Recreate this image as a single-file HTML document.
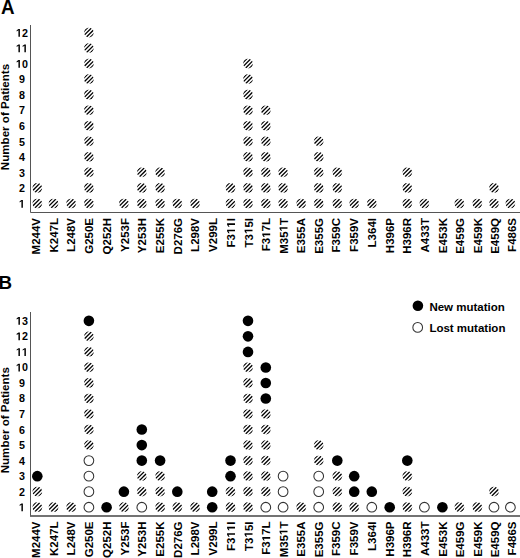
<!DOCTYPE html>
<html><head><meta charset="utf-8"><title>Figure</title><style>
html,body{margin:0;padding:0;background:#fff;}
svg{display:block;}
text{font-family:"Liberation Sans",sans-serif;font-weight:bold;font-kerning:none;fill:#000;}
.o{fill-opacity:0;}
</style></head><body>
<svg width="520" height="558" viewBox="0 0 520 558">
<defs>
<path id="g_one" d="M478 0L478 1170L140 959L140 1180L493 1409L759 1409L759 0Z"/>
<clipPath id="cc"><circle r="4.85"/></clipPath>
<g id="h"><g clip-path="url(#cc)" stroke="#000" stroke-width="1.3">
<line x1="-8" y1="1.848" x2="8" y2="-14.152"/>
<line x1="-8" y1="5.949" x2="8" y2="-10.051"/>
<line x1="-8" y1="10.051" x2="8" y2="-5.949"/>
<line x1="-8" y1="14.152" x2="8" y2="-1.848"/>
</g></g></defs>
<rect width="520" height="558" fill="#fff"/>
<path d="M30.5 25V212.5H520" fill="none" stroke="#555" stroke-width="1"/>
<path d="M30.5 312V515.5" fill="none" stroke="#555" stroke-width="1"/>
<path d="M30 516H520" fill="none" stroke="#444" stroke-width="1.3"/>
<g fill="#000">
<text transform="translate(0.95,13.60) scale(0.94,1)" x="0.000" style="font-size:20px">A</text>
<text transform="translate(-1.50,288.90)" x="0.000" style="font-size:18.8px">B</text>
<text transform="translate(21.90,207.70) scale(0.95,1)" x="-3.142" style="font-size:11.3px"><tspan class="o">1</tspan></text><g transform="translate(21.90,207.70) scale(0.95,1) scale(0.005518,-0.005518)"><use href="#g_one" x="-569.5"/></g>
<text transform="translate(21.90,192.16) scale(0.95,1)" x="-3.142" style="font-size:11.3px">2</text>
<text transform="translate(21.90,176.62) scale(0.95,1)" x="-3.142" style="font-size:11.3px">3</text>
<text transform="translate(21.90,161.08) scale(0.95,1)" x="-3.142" style="font-size:11.3px">4</text>
<text transform="translate(21.90,145.54) scale(0.95,1)" x="-3.142" style="font-size:11.3px">5</text>
<text transform="translate(21.90,130.00) scale(0.95,1)" x="-3.142" style="font-size:11.3px">6</text>
<text transform="translate(21.90,114.46) scale(0.95,1)" x="-3.142" style="font-size:11.3px">7</text>
<text transform="translate(21.90,98.92) scale(0.95,1)" x="-3.142" style="font-size:11.3px">8</text>
<text transform="translate(21.90,83.38) scale(0.95,1)" x="-3.142" style="font-size:11.3px">9</text>
<text transform="translate(21.90,67.84) scale(0.95,1)" x="-6.285" style="font-size:11.3px"><tspan class="o">1</tspan>0</text><g transform="translate(21.90,67.84) scale(0.95,1) scale(0.005518,-0.005518)"><use href="#g_one" x="-1139.0"/></g>
<text transform="translate(21.90,52.30) scale(0.95,1)" x="-6.285" style="font-size:11.3px"><tspan class="o">1</tspan><tspan class="o">1</tspan></text><g transform="translate(21.90,52.30) scale(0.95,1) scale(0.005518,-0.005518)"><use href="#g_one" x="-1139.0"/><use href="#g_one" x="0.0"/></g>
<text transform="translate(21.90,36.76) scale(0.95,1)" x="-6.285" style="font-size:11.3px"><tspan class="o">1</tspan>2</text><g transform="translate(21.90,36.76) scale(0.95,1) scale(0.005518,-0.005518)"><use href="#g_one" x="-1139.0"/></g>
<text transform="translate(21.90,511.20) scale(0.95,1)" x="-3.142" style="font-size:11.3px"><tspan class="o">1</tspan></text><g transform="translate(21.90,511.20) scale(0.95,1) scale(0.005518,-0.005518)"><use href="#g_one" x="-569.5"/></g>
<text transform="translate(21.90,495.67) scale(0.95,1)" x="-3.142" style="font-size:11.3px">2</text>
<text transform="translate(21.90,480.14) scale(0.95,1)" x="-3.142" style="font-size:11.3px">3</text>
<text transform="translate(21.90,464.61) scale(0.95,1)" x="-3.142" style="font-size:11.3px">4</text>
<text transform="translate(21.90,449.08) scale(0.95,1)" x="-3.142" style="font-size:11.3px">5</text>
<text transform="translate(21.90,433.55) scale(0.95,1)" x="-3.142" style="font-size:11.3px">6</text>
<text transform="translate(21.90,418.02) scale(0.95,1)" x="-3.142" style="font-size:11.3px">7</text>
<text transform="translate(21.90,402.49) scale(0.95,1)" x="-3.142" style="font-size:11.3px">8</text>
<text transform="translate(21.90,386.96) scale(0.95,1)" x="-3.142" style="font-size:11.3px">9</text>
<text transform="translate(21.90,371.43) scale(0.95,1)" x="-6.285" style="font-size:11.3px"><tspan class="o">1</tspan>0</text><g transform="translate(21.90,371.43) scale(0.95,1) scale(0.005518,-0.005518)"><use href="#g_one" x="-1139.0"/></g>
<text transform="translate(21.90,355.90) scale(0.95,1)" x="-6.285" style="font-size:11.3px"><tspan class="o">1</tspan><tspan class="o">1</tspan></text><g transform="translate(21.90,355.90) scale(0.95,1) scale(0.005518,-0.005518)"><use href="#g_one" x="-1139.0"/><use href="#g_one" x="0.0"/></g>
<text transform="translate(21.90,340.37) scale(0.95,1)" x="-6.285" style="font-size:11.3px"><tspan class="o">1</tspan>2</text><g transform="translate(21.90,340.37) scale(0.95,1) scale(0.005518,-0.005518)"><use href="#g_one" x="-1139.0"/></g>
<text transform="translate(21.90,324.84) scale(0.95,1)" x="-6.285" style="font-size:11.3px"><tspan class="o">1</tspan>3</text><g transform="translate(21.90,324.84) scale(0.95,1) scale(0.005518,-0.005518)"><use href="#g_one" x="-1139.0"/></g>
<text transform="translate(9.20,117.00) rotate(-90)" x="-53.174" style="font-size:11.6px">Number of Patients</text>
<text transform="translate(9.20,420.20) rotate(-90)" x="-53.174" style="font-size:11.6px">Number of Patients</text>
<text transform="translate(40.30,218.00) rotate(-90)" x="-36.437" style="font-size:11.5px">M244V</text>
<text transform="translate(40.30,521.50) rotate(-90)" x="-36.437" style="font-size:11.5px">M244V</text>
<text transform="translate(58.05,218.00) rotate(-90)" x="-34.517" style="font-size:11.5px">K247L</text>
<text transform="translate(58.05,521.50) rotate(-90)" x="-34.517" style="font-size:11.5px">K247L</text>
<text transform="translate(75.40,218.00) rotate(-90)" x="-33.882" style="font-size:11.5px">L248V</text>
<text transform="translate(75.40,521.50) rotate(-90)" x="-33.882" style="font-size:11.5px">L248V</text>
<text transform="translate(92.90,218.00) rotate(-90)" x="-35.803" style="font-size:11.5px">G250E</text>
<text transform="translate(92.90,521.50) rotate(-90)" x="-35.803" style="font-size:11.5px">G250E</text>
<text transform="translate(110.50,218.00) rotate(-90)" x="-36.437" style="font-size:11.5px">Q252H</text>
<text transform="translate(110.50,521.50) rotate(-90)" x="-36.437" style="font-size:11.5px">Q252H</text>
<text transform="translate(128.60,218.00) rotate(-90)" x="-33.882" style="font-size:11.5px">Y253F</text>
<text transform="translate(128.60,521.50) rotate(-90)" x="-33.882" style="font-size:11.5px">Y253F</text>
<text transform="translate(146.10,218.00) rotate(-90)" x="-35.163" style="font-size:11.5px">Y253H</text>
<text transform="translate(146.10,521.50) rotate(-90)" x="-35.163" style="font-size:11.5px">Y253H</text>
<text transform="translate(164.40,218.00) rotate(-90)" x="-35.163" style="font-size:11.5px">E255K</text>
<text transform="translate(164.40,521.50) rotate(-90)" x="-35.163" style="font-size:11.5px">E255K</text>
<text transform="translate(182.10,218.00) rotate(-90)" x="-36.437" style="font-size:11.5px">D276G</text>
<text transform="translate(182.10,521.50) rotate(-90)" x="-36.437" style="font-size:11.5px">D276G</text>
<text transform="translate(199.30,218.00) rotate(-90)" x="-33.882" style="font-size:11.5px">L298V</text>
<text transform="translate(199.30,521.50) rotate(-90)" x="-33.882" style="font-size:11.5px">L298V</text>
<text transform="translate(216.80,218.00) rotate(-90)" x="-33.882" style="font-size:11.5px">V299L</text>
<text transform="translate(216.80,521.50) rotate(-90)" x="-33.882" style="font-size:11.5px">V299L</text>
<text transform="translate(235.00,218.00) rotate(-90)" x="-29.407" style="font-size:11.5px">F3<tspan class="o">1</tspan><tspan class="o">1</tspan>I</text><g transform="translate(235.00,218.00) rotate(-90) scale(0.005615,-0.005615)"><use href="#g_one" x="-2847.0"/><use href="#g_one" x="-1708.0"/></g>
<text transform="translate(235.00,521.50) rotate(-90)" x="-29.407" style="font-size:11.5px">F3<tspan class="o">1</tspan><tspan class="o">1</tspan>I</text><g transform="translate(235.00,521.50) rotate(-90) scale(0.005615,-0.005615)"><use href="#g_one" x="-2847.0"/><use href="#g_one" x="-1708.0"/></g>
<text transform="translate(252.50,218.00) rotate(-90)" x="-29.407" style="font-size:11.5px">T3<tspan class="o">1</tspan>5I</text><g transform="translate(252.50,218.00) rotate(-90) scale(0.005615,-0.005615)"><use href="#g_one" x="-2847.0"/></g>
<text transform="translate(252.50,521.50) rotate(-90)" x="-29.407" style="font-size:11.5px">T3<tspan class="o">1</tspan>5I</text><g transform="translate(252.50,521.50) rotate(-90) scale(0.005615,-0.005615)"><use href="#g_one" x="-2847.0"/></g>
<text transform="translate(270.20,218.00) rotate(-90)" x="-33.237" style="font-size:11.5px">F3<tspan class="o">1</tspan>7L</text><g transform="translate(270.20,218.00) rotate(-90) scale(0.005615,-0.005615)"><use href="#g_one" x="-3529.0"/></g>
<text transform="translate(270.20,521.50) rotate(-90)" x="-33.237" style="font-size:11.5px">F3<tspan class="o">1</tspan>7L</text><g transform="translate(270.20,521.50) rotate(-90) scale(0.005615,-0.005615)"><use href="#g_one" x="-3529.0"/></g>
<text transform="translate(287.50,218.00) rotate(-90)" x="-35.792" style="font-size:11.5px">M35<tspan class="o">1</tspan>T</text><g transform="translate(287.50,218.00) rotate(-90) scale(0.005615,-0.005615)"><use href="#g_one" x="-2390.0"/></g>
<text transform="translate(287.50,521.50) rotate(-90)" x="-35.792" style="font-size:11.5px">M35<tspan class="o">1</tspan>T</text><g transform="translate(287.50,521.50) rotate(-90) scale(0.005615,-0.005615)"><use href="#g_one" x="-2390.0"/></g>
<text transform="translate(305.20,218.00) rotate(-90)" x="-35.163" style="font-size:11.5px">E355A</text>
<text transform="translate(305.20,521.50) rotate(-90)" x="-35.163" style="font-size:11.5px">E355A</text>
<text transform="translate(322.80,218.00) rotate(-90)" x="-35.803" style="font-size:11.5px">E355G</text>
<text transform="translate(322.80,521.50) rotate(-90)" x="-35.803" style="font-size:11.5px">E355G</text>
<text transform="translate(340.20,218.00) rotate(-90)" x="-34.517" style="font-size:11.5px">F359C</text>
<text transform="translate(340.20,521.50) rotate(-90)" x="-34.517" style="font-size:11.5px">F359C</text>
<text transform="translate(357.50,218.00) rotate(-90)" x="-33.882" style="font-size:11.5px">F359V</text>
<text transform="translate(357.50,521.50) rotate(-90)" x="-33.882" style="font-size:11.5px">F359V</text>
<text transform="translate(375.90,218.00) rotate(-90)" x="-29.407" style="font-size:11.5px">L364I</text>
<text transform="translate(375.90,521.50) rotate(-90)" x="-29.407" style="font-size:11.5px">L364I</text>
<text transform="translate(393.50,218.00) rotate(-90)" x="-35.163" style="font-size:11.5px">H396P</text>
<text transform="translate(393.50,521.50) rotate(-90)" x="-35.163" style="font-size:11.5px">H396P</text>
<text transform="translate(411.30,218.00) rotate(-90)" x="-35.797" style="font-size:11.5px">H396R</text>
<text transform="translate(411.30,521.50) rotate(-90)" x="-35.797" style="font-size:11.5px">H396R</text>
<text transform="translate(429.00,218.00) rotate(-90)" x="-34.517" style="font-size:11.5px">A433T</text>
<text transform="translate(429.00,521.50) rotate(-90)" x="-34.517" style="font-size:11.5px">A433T</text>
<text transform="translate(446.70,218.00) rotate(-90)" x="-35.163" style="font-size:11.5px">E453K</text>
<text transform="translate(446.70,521.50) rotate(-90)" x="-35.163" style="font-size:11.5px">E453K</text>
<text transform="translate(464.40,218.00) rotate(-90)" x="-35.803" style="font-size:11.5px">E459G</text>
<text transform="translate(464.40,521.50) rotate(-90)" x="-35.803" style="font-size:11.5px">E459G</text>
<text transform="translate(481.90,218.00) rotate(-90)" x="-35.163" style="font-size:11.5px">E459K</text>
<text transform="translate(481.90,521.50) rotate(-90)" x="-35.163" style="font-size:11.5px">E459K</text>
<text transform="translate(499.00,218.00) rotate(-90)" x="-35.803" style="font-size:11.5px">E459Q</text>
<text transform="translate(499.00,521.50) rotate(-90)" x="-35.803" style="font-size:11.5px">E459Q</text>
<text transform="translate(515.90,218.00) rotate(-90)" x="-33.882" style="font-size:11.5px">F486S</text>
<text transform="translate(515.90,521.50) rotate(-90)" x="-33.882" style="font-size:11.5px">F486S</text>
<text transform="translate(429.40,310.60)" x="0.000" style="font-size:11.5px">New mutation</text>
<text transform="translate(429.40,331.70)" x="0.000" style="font-size:11.5px">Lost mutation</text>
</g>
<use href="#h" x="37.30" y="203.50"/>
<use href="#h" x="37.30" y="187.96"/>
<use href="#h" x="53.50" y="203.50"/>
<use href="#h" x="71.10" y="203.50"/>
<use href="#h" x="88.90" y="203.50"/>
<use href="#h" x="88.90" y="187.96"/>
<use href="#h" x="88.90" y="172.42"/>
<use href="#h" x="88.90" y="156.88"/>
<use href="#h" x="88.90" y="141.34"/>
<use href="#h" x="88.90" y="125.80"/>
<use href="#h" x="88.90" y="110.26"/>
<use href="#h" x="88.90" y="94.72"/>
<use href="#h" x="88.90" y="79.18"/>
<use href="#h" x="88.90" y="63.64"/>
<use href="#h" x="88.90" y="48.10"/>
<use href="#h" x="88.90" y="32.56"/>
<use href="#h" x="123.90" y="203.50"/>
<use href="#h" x="141.80" y="203.50"/>
<use href="#h" x="141.80" y="187.96"/>
<use href="#h" x="141.80" y="172.42"/>
<use href="#h" x="160.10" y="203.50"/>
<use href="#h" x="160.10" y="187.96"/>
<use href="#h" x="160.10" y="172.42"/>
<use href="#h" x="177.30" y="203.50"/>
<use href="#h" x="195.00" y="203.50"/>
<use href="#h" x="230.50" y="203.50"/>
<use href="#h" x="230.50" y="187.96"/>
<use href="#h" x="248.00" y="203.50"/>
<use href="#h" x="248.00" y="187.96"/>
<use href="#h" x="248.00" y="172.42"/>
<use href="#h" x="248.00" y="156.88"/>
<use href="#h" x="248.00" y="141.34"/>
<use href="#h" x="248.00" y="125.80"/>
<use href="#h" x="248.00" y="110.26"/>
<use href="#h" x="248.00" y="94.72"/>
<use href="#h" x="248.00" y="79.18"/>
<use href="#h" x="248.00" y="63.64"/>
<use href="#h" x="265.80" y="203.50"/>
<use href="#h" x="265.80" y="187.96"/>
<use href="#h" x="265.80" y="172.42"/>
<use href="#h" x="265.80" y="156.88"/>
<use href="#h" x="265.80" y="141.34"/>
<use href="#h" x="265.80" y="125.80"/>
<use href="#h" x="265.80" y="110.26"/>
<use href="#h" x="283.10" y="203.50"/>
<use href="#h" x="283.10" y="187.96"/>
<use href="#h" x="283.10" y="172.42"/>
<use href="#h" x="301.20" y="203.50"/>
<use href="#h" x="318.70" y="203.50"/>
<use href="#h" x="318.70" y="187.96"/>
<use href="#h" x="318.70" y="172.42"/>
<use href="#h" x="318.70" y="156.88"/>
<use href="#h" x="318.70" y="141.34"/>
<use href="#h" x="337.30" y="203.50"/>
<use href="#h" x="337.30" y="187.96"/>
<use href="#h" x="337.30" y="172.42"/>
<use href="#h" x="354.20" y="203.50"/>
<use href="#h" x="371.80" y="203.50"/>
<use href="#h" x="407.30" y="203.50"/>
<use href="#h" x="407.30" y="187.96"/>
<use href="#h" x="407.30" y="172.42"/>
<use href="#h" x="424.40" y="203.50"/>
<use href="#h" x="459.40" y="203.50"/>
<use href="#h" x="477.30" y="203.50"/>
<use href="#h" x="494.00" y="203.50"/>
<use href="#h" x="494.00" y="187.96"/>
<use href="#h" x="510.40" y="203.50"/>
<use href="#h" x="37.30" y="507.20"/>
<use href="#h" x="37.30" y="491.67"/>
<circle cx="37.30" cy="476.14" r="5.3"/>
<use href="#h" x="53.50" y="507.20"/>
<use href="#h" x="71.10" y="507.20"/>
<circle cx="88.90" cy="507.20" r="4.85" fill="none" stroke="#333" stroke-width="1.05"/>
<circle cx="88.90" cy="491.67" r="4.85" fill="none" stroke="#333" stroke-width="1.05"/>
<circle cx="88.90" cy="476.14" r="4.85" fill="none" stroke="#333" stroke-width="1.05"/>
<circle cx="88.90" cy="460.61" r="4.85" fill="none" stroke="#333" stroke-width="1.05"/>
<use href="#h" x="88.90" y="445.08"/>
<use href="#h" x="88.90" y="429.55"/>
<use href="#h" x="88.90" y="414.02"/>
<use href="#h" x="88.90" y="398.49"/>
<use href="#h" x="88.90" y="382.96"/>
<use href="#h" x="88.90" y="367.43"/>
<use href="#h" x="88.90" y="351.90"/>
<use href="#h" x="88.90" y="336.37"/>
<circle cx="88.90" cy="320.84" r="5.3"/>
<circle cx="106.60" cy="507.20" r="5.3"/>
<use href="#h" x="123.90" y="507.20"/>
<circle cx="123.90" cy="491.67" r="5.3"/>
<circle cx="141.80" cy="507.20" r="4.85" fill="none" stroke="#333" stroke-width="1.05"/>
<use href="#h" x="141.80" y="491.67"/>
<use href="#h" x="141.80" y="476.14"/>
<circle cx="141.80" cy="460.61" r="5.3"/>
<circle cx="141.80" cy="445.08" r="5.3"/>
<circle cx="141.80" cy="429.55" r="5.3"/>
<use href="#h" x="160.10" y="507.20"/>
<use href="#h" x="160.10" y="491.67"/>
<use href="#h" x="160.10" y="476.14"/>
<circle cx="160.10" cy="460.61" r="5.3"/>
<use href="#h" x="177.30" y="507.20"/>
<circle cx="177.30" cy="491.67" r="5.3"/>
<use href="#h" x="195.00" y="507.20"/>
<circle cx="212.20" cy="507.20" r="5.3"/>
<circle cx="212.20" cy="491.67" r="5.3"/>
<use href="#h" x="230.50" y="507.20"/>
<use href="#h" x="230.50" y="491.67"/>
<circle cx="230.50" cy="476.14" r="5.3"/>
<circle cx="230.50" cy="460.61" r="5.3"/>
<use href="#h" x="248.00" y="507.20"/>
<use href="#h" x="248.00" y="491.67"/>
<use href="#h" x="248.00" y="476.14"/>
<use href="#h" x="248.00" y="460.61"/>
<use href="#h" x="248.00" y="445.08"/>
<use href="#h" x="248.00" y="429.55"/>
<use href="#h" x="248.00" y="414.02"/>
<use href="#h" x="248.00" y="398.49"/>
<use href="#h" x="248.00" y="382.96"/>
<use href="#h" x="248.00" y="367.43"/>
<circle cx="248.00" cy="351.90" r="5.3"/>
<circle cx="248.00" cy="336.37" r="5.3"/>
<circle cx="248.00" cy="320.84" r="5.3"/>
<circle cx="265.80" cy="507.20" r="4.85" fill="none" stroke="#333" stroke-width="1.05"/>
<use href="#h" x="265.80" y="491.67"/>
<use href="#h" x="265.80" y="476.14"/>
<use href="#h" x="265.80" y="460.61"/>
<use href="#h" x="265.80" y="445.08"/>
<use href="#h" x="265.80" y="429.55"/>
<use href="#h" x="265.80" y="414.02"/>
<circle cx="265.80" cy="398.49" r="5.3"/>
<circle cx="265.80" cy="382.96" r="5.3"/>
<circle cx="265.80" cy="367.43" r="5.3"/>
<circle cx="283.10" cy="507.20" r="4.85" fill="none" stroke="#333" stroke-width="1.05"/>
<circle cx="283.10" cy="491.67" r="4.85" fill="none" stroke="#333" stroke-width="1.05"/>
<circle cx="283.10" cy="476.14" r="4.85" fill="none" stroke="#333" stroke-width="1.05"/>
<use href="#h" x="301.20" y="507.20"/>
<circle cx="318.70" cy="507.20" r="4.85" fill="none" stroke="#333" stroke-width="1.05"/>
<circle cx="318.70" cy="491.67" r="4.85" fill="none" stroke="#333" stroke-width="1.05"/>
<circle cx="318.70" cy="476.14" r="4.85" fill="none" stroke="#333" stroke-width="1.05"/>
<use href="#h" x="318.70" y="460.61"/>
<use href="#h" x="318.70" y="445.08"/>
<use href="#h" x="337.30" y="507.20"/>
<use href="#h" x="337.30" y="491.67"/>
<use href="#h" x="337.30" y="476.14"/>
<circle cx="337.30" cy="460.61" r="5.3"/>
<use href="#h" x="354.20" y="507.20"/>
<circle cx="354.20" cy="491.67" r="5.3"/>
<circle cx="354.20" cy="476.14" r="5.3"/>
<circle cx="371.80" cy="507.20" r="4.85" fill="none" stroke="#333" stroke-width="1.05"/>
<circle cx="371.80" cy="491.67" r="5.3"/>
<circle cx="389.70" cy="507.20" r="5.3"/>
<use href="#h" x="407.30" y="507.20"/>
<use href="#h" x="407.30" y="491.67"/>
<use href="#h" x="407.30" y="476.14"/>
<circle cx="407.30" cy="460.61" r="5.3"/>
<circle cx="424.40" cy="507.20" r="4.85" fill="none" stroke="#333" stroke-width="1.05"/>
<circle cx="442.40" cy="507.20" r="5.3"/>
<use href="#h" x="459.40" y="507.20"/>
<use href="#h" x="477.30" y="507.20"/>
<circle cx="494.00" cy="507.20" r="4.85" fill="none" stroke="#333" stroke-width="1.05"/>
<use href="#h" x="494.00" y="491.67"/>
<circle cx="510.40" cy="507.20" r="4.85" fill="none" stroke="#333" stroke-width="1.05"/>
<circle cx="417.90" cy="305.70" r="5.3"/>
<circle cx="417.70" cy="327.40" r="4.85" fill="none" stroke="#333" stroke-width="1.05"/>
</svg>
</body></html>
